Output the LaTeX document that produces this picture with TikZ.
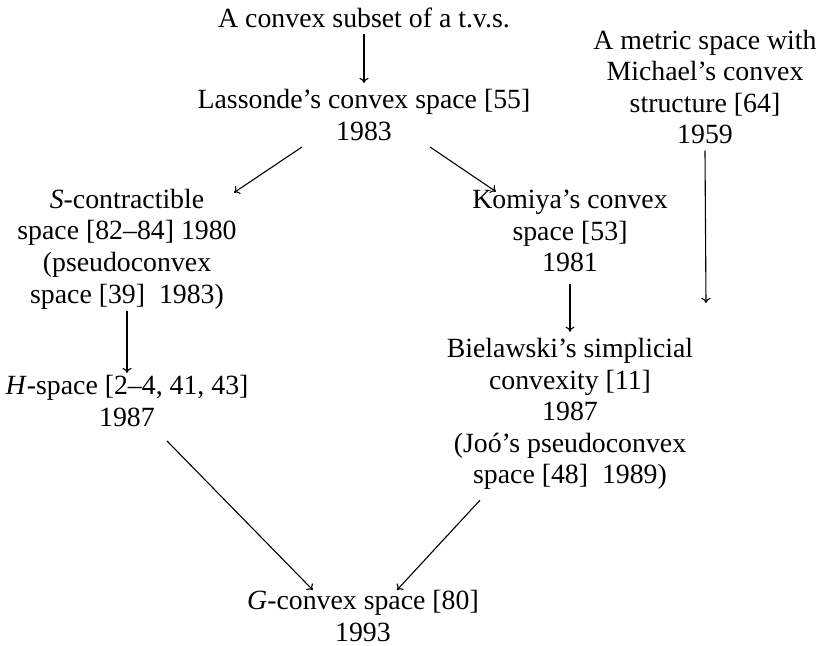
\documentclass[tikz,border=0pt]{standalone}
\usepackage{fontspec}
\setmainfont{Liberation Serif}
\usepackage{tikz}
\usetikzlibrary{arrows,arrows.meta,positioning,calc}

\tikzset{
  espace/.style={align=center,inner sep=3pt,font=\fontsize{13.9}{15.8}\selectfont},
  fleche/.style={-{To[length=2.6pt,width=4.6pt]},line width=0.55pt}
}

\begin{document}
\begin{tikzpicture}[x=0.5pt,y=-0.5pt]
    \useasboundingbox (0,0) rectangle (826,646);
    % les espaces, du plus general au plus recent
    \node[espace] (tvs)     at (364,18)  {A convex subset of a t.v.s.};
    \node[espace] (lass)    at (364,115) {Lassonde’s convex space [55]\\1983};
    \node[espace] (metric)  at (705,87)  {A metric space with\\Michael’s convex\\structure [64]\\1959};
    \node[espace] (scon)    at (127,249) {\textit{S}-contractible\\space [82--84] 1980\\(pseudoconvex\\space [39]~~1983)};
    \node[espace] (komiya)  at (570,231) {Komiya’s convex\\space [53]\\1981};
    \node[espace] (hsp)     at (127,401) {\textit{H}-space [2--4, 41, 43]\\1987};
    \node[espace] (biel)    at (570,414) {Bielawski’s simplicial\\convexity [11]\\1987\\(Joó’s pseudoconvex\\space [48]~~1989)};
    \node[espace] (gconv)   at (363,616) {\textit{G}-convex space [80]\\1993};
    \coordinate (finmetric) at (706,303);
    % fleches
    \draw[fleche] (tvs.south) -- (lass.north);
    \draw[fleche] ([xshift=-31pt]lass.south) -- ([xshift=-4.5pt,yshift=-5pt]scon.north east);
    \draw[fleche] ([xshift=33pt]lass.south) -- ([xshift=15pt,yshift=-4pt]komiya.north west);
    \draw[fleche] (metric.south) -- (finmetric);
    \draw[fleche,shorten <=3pt] (komiya.south) -- (biel.north);
    \draw[fleche] ([yshift=2pt]scon.south) -- ([yshift=-2pt]hsp.north);
    \draw[fleche] ([xshift=20pt,yshift=-4pt]hsp.south) -- ([xshift=36pt,yshift=-3pt]gconv.north west);
    \draw[fleche] ([xshift=-45pt,yshift=-2pt]biel.south) -- ([xshift=17pt,yshift=-3pt]gconv.north);
  \end{tikzpicture}
\end{document}
